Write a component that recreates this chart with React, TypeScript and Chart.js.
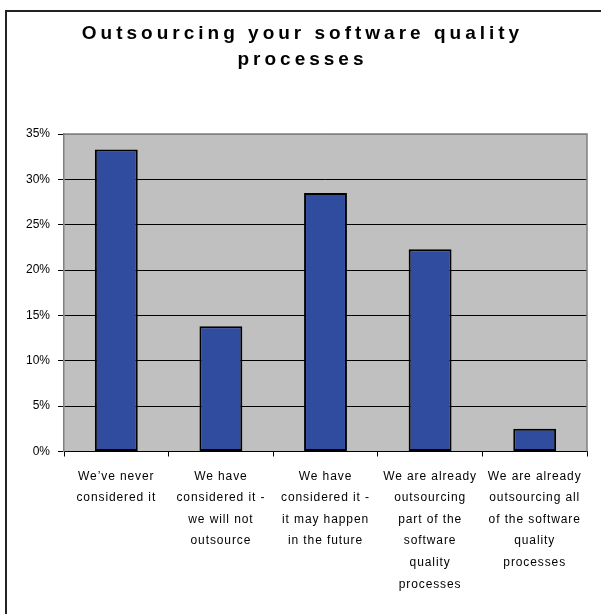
import React, { useEffect, useRef } from 'react';
import { Chart, registerables } from 'chart.js';

Chart.register(...registerables);

const titleLines: string[] = ['Outsourcing your software quality', 'processes'];

const categories: string[][] = [
  ['We\u2019ve never', 'considered it'],
  ['We have', 'considered it -', 'we will not', 'outsource'],
  ['We have', 'considered it -', 'it may happen', 'in the future'],
  ['We are already', 'outsourcing', 'part of the', 'software', 'quality', 'processes'],
  ['We are already', 'outsourcing all', 'of the software', 'quality', 'processes'],
];

const values: number[] = [33.3, 13.8, 28.5, 22.3, 2.5];

const yMin = 0;
const yMax = 35;
const yStep = 5;

const FONT = "'Liberation Sans', Arial, sans-serif";

export default function App() {
  const ref = useRef<HTMLCanvasElement>(null);

  useEffect(() => {
    if (!ref.current) return;

    const excelStyle = {
      id: 'excelStyle',
      beforeDraw(chart: any) {
        const { ctx, chartArea: a } = chart;
        ctx.save();
        ctx.fillStyle = '#C0C0C0';
        ctx.fillRect(a.left, a.top, a.right - a.left, a.bottom - a.top);
        ctx.restore();

        const tb = chart.titleBlock;
        if (tb && !tb.__ls) {
          const orig = tb.draw;
          tb.draw = function (area: any) {
            const c = this.ctx;
            c.save();
            c.letterSpacing = '4px';
            c.translate(9, 0);
            orig.call(this, area);
            c.restore();
          };
          tb.__ls = true;
        }
        const xs = chart.scales.x;
        if (xs && !xs.__ls) {
          const o = xs.drawLabels;
          xs.drawLabels = function (area: any) {
            const c = this.ctx;
            c.save();
            c.letterSpacing = '0.9px';
            o.call(this, area);
            c.restore();
          };
          xs.__ls = true;
        }
      },
      beforeDatasetsDraw(chart: any) {
        const { ctx, chartArea: a } = chart;
        ctx.save();
        ctx.strokeStyle = '#808080';
        ctx.lineWidth = 1.5;
        ctx.beginPath();
        ctx.moveTo(a.left, a.top);
        ctx.lineTo(a.right, a.top);
        ctx.lineTo(a.right, a.bottom);
        ctx.stroke();
        ctx.restore();
      },
    };

    const chart = new Chart(ref.current, {
      type: 'bar',
      data: {
        labels: categories,
        datasets: [
          {
            data: values,
            backgroundColor: '#2F4C9F',
            borderColor: '#000000',
            borderWidth: 2,
            borderSkipped: false,
            barPercentage: 0.41,
            categoryPercentage: 1,
          },
        ],
      },
      options: {
        responsive: false,
        animation: false,
        devicePixelRatio: 1,
        layout: { padding: { left: 0, right: 14, top: 0, bottom: 0 } },
        plugins: {
          legend: { display: false },
          tooltip: { enabled: false },
          title: {
            display: true,
            text: titleLines,
            color: '#000000',
            font: { family: FONT, size: 19, weight: 'bold', lineHeight: 1.35 },
            padding: { top: 21, bottom: 61.7 },
          },
        },
        scales: {
          x: {
            grid: {
              offset: true,
              drawOnChartArea: false,
              drawTicks: true,
              tickLength: 5,
              color: '#000000',
            },
            border: { display: true, color: '#000000', width: 1 },
            ticks: {
              color: '#000000',
              font: { family: FONT, size: 12, lineHeight: 1.8 },
              padding: 9,
              maxRotation: 0,
              minRotation: 0,
              autoSkip: false,
            },
            afterFit(scale: any) {
              scale.height = 162.5;
            },
          },
          y: {
            min: yMin,
            max: yMax,
            grid: {
              color: (c: any) => (c.tick && c.tick.value === yMax ? '#808080' : '#000000'),
              tickColor: '#000000',
              tickLength: 6,
              lineWidth: 1,
            },
            border: { display: true, color: '#808080', width: 1.5 },
            ticks: {
              stepSize: yStep,
              color: '#000000',
              font: { family: FONT, size: 12 },
              padding: 8,
              callback: (v: any) => v + '%',
            },
            afterFit(scale: any) {
              scale.width = 64;
            },
          },
        },
      },
      plugins: [excelStyle],
    });

    return () => chart.destroy();
  }, []);

  return (
    <div
      style={{
        position: 'absolute',
        left: 0,
        top: 0,
        width: 601,
        height: 614,
        overflow: 'hidden',
        background: '#ffffff',
      }}
    >
      <div
        style={{
          position: 'absolute',
          left: 5,
          top: 10,
          width: 700,
          height: 700,
          borderLeft: '2px solid #222222',
          borderTop: '2px solid #222222',
        }}
      />
      <canvas
        ref={ref}
        width={601}
        height={614}
        style={{ position: 'absolute', left: 0, top: 0, width: 601, height: 614 }}
      />
    </div>
  );
}
